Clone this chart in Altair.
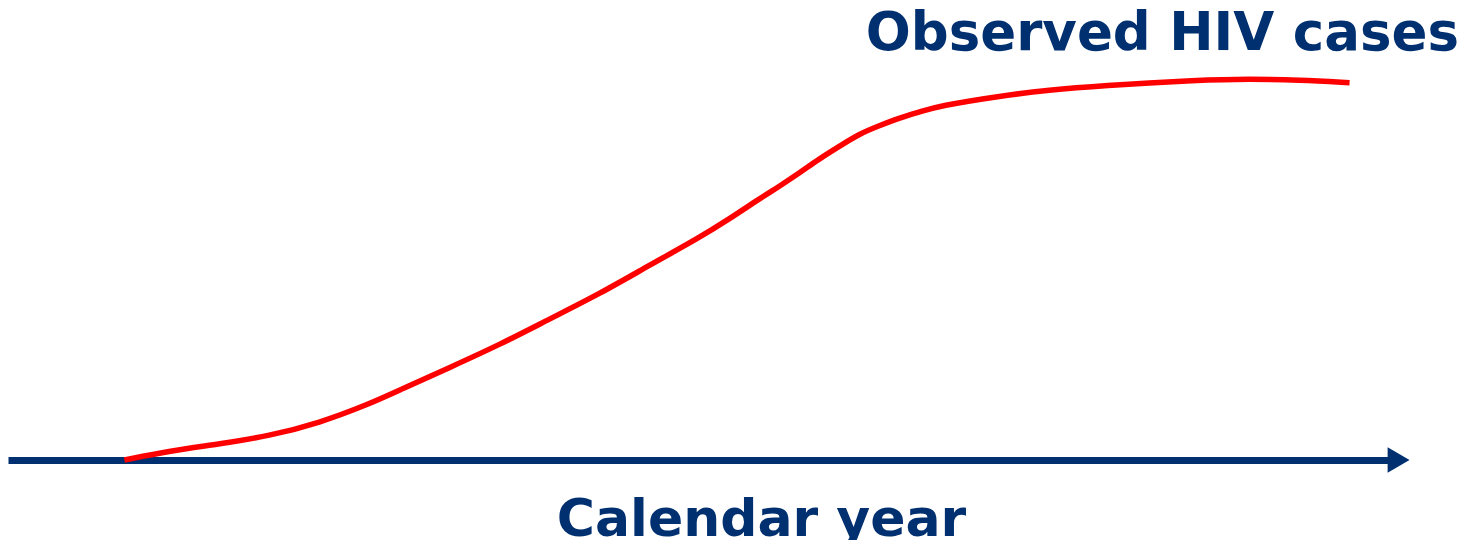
import altair as alt
import pandas as pd

# Data (abstract units: time 0..100, cases 0..100)
years = [0, 3.7, 7.8, 11.8, 15.9, 20.0, 22.5, 26.5, 30.6, 34.7, 38.8, 42.9, 46.9, 49.4,
         51.8, 53.5, 55.1, 56.7, 58.4, 60.0, 61.6, 63.3, 64.9, 66.5, 71.4, 75.5, 79.6,
         87.8, 91.8, 95.9, 100]
cases = [0, 2.4, 4.2, 6.3, 9.7, 14.7, 18.4, 24.2, 30.2, 37.0, 43.6, 51.2, 58.3, 63.3,
         68.5, 71.9, 75.3, 79.0, 82.4, 85.6, 87.7, 89.8, 91.3, 92.9, 95.5, 97.1, 98.2,
         99.7, 100, 99.7, 99.0]
series_label = ["Observed HIV cases"]
x_title = "Calendar year"

NAVY = "#003070"
RED = "#FF0000"
FONT = "DejaVu Sans"

X_DOMAIN = [-9.5, 103.3]
Y_DOMAIN = [0, 118.6]

curve_df = pd.DataFrame({"year": years, "cases": cases})
arrow_df = pd.DataFrame({"year": [104.0], "cases": [0]})
label_df = pd.DataFrame({"label": series_label})

x_scale = alt.Scale(domain=X_DOMAIN, nice=False, zero=False)
y_scale = alt.Scale(domain=Y_DOMAIN, nice=False, zero=False)

curve = alt.Chart(curve_df).mark_line(
    color=RED, strokeWidth=5.5, interpolate="basis"
).encode(
    x=alt.X("year:Q", scale=x_scale,
            axis=alt.Axis(title=x_title, labels=False, ticks=False, grid=False,
                          domain=True, domainColor=NAVY, domainWidth=7,
                          titleFont=FONT, titleFontSize=52, titleFontWeight="bold",
                          titleColor=NAVY, titleAlign="center", titleAnchor="start",
                          titleBaseline="alphabetic", titleX=753, titleY=75)),
    y=alt.Y("cases:Q", scale=y_scale, axis=None),
)

arrowhead = alt.Chart(arrow_df).mark_point(
    shape="triangle-right", size=640, filled=True, color=NAVY, opacity=1, strokeWidth=0
).encode(
    x=alt.X("year:Q", scale=x_scale),
    y=alt.Y("cases:Q", scale=y_scale),
)

label = alt.Chart(label_df).mark_text(
    font=FONT, fontSize=53, fontWeight="bold", color=NAVY,
    align="right", baseline="alphabetic"
).encode(
    text="label:N",
    x=alt.value(1451),
    y=alt.value(42),
)

chart = alt.layer(curve, arrowhead, label).properties(
    width=1382, height=452,
    autosize=alt.AutoSizeParams(type="none"),
    padding={"left": 0, "top": 0, "right": 72, "bottom": 80},
).configure(background="white").configure_view(strokeWidth=0, stroke="transparent")

chart.save("out.html", embed_options={"renderer": "svg", "actions": False})
